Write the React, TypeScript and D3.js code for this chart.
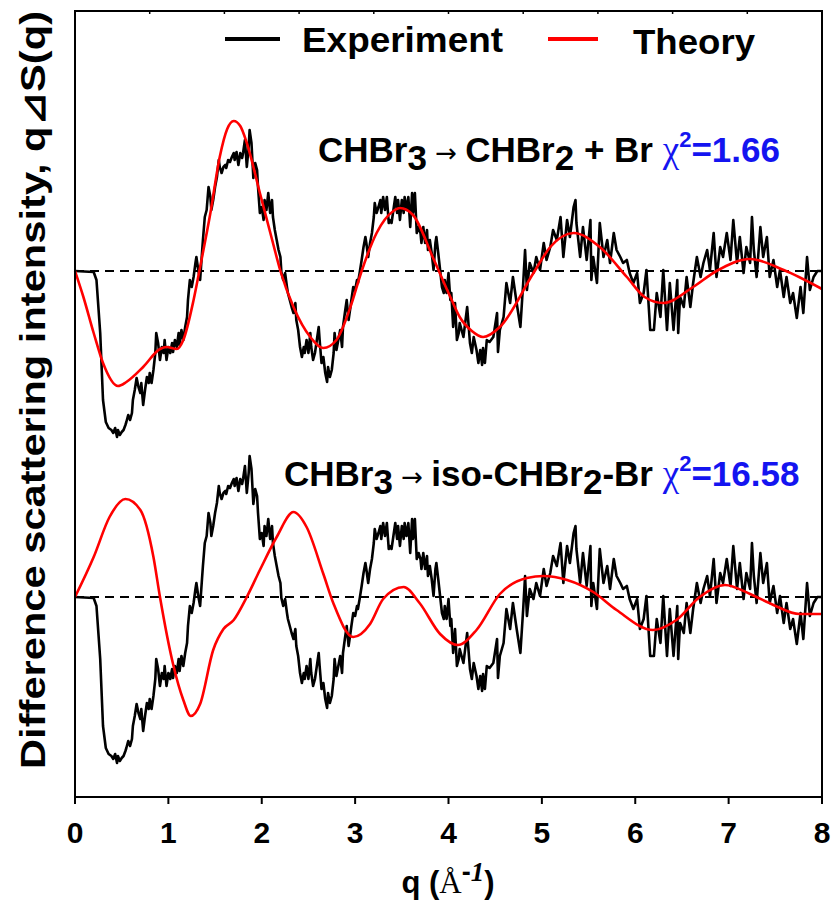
import React from "react";
import * as d3 from "d3";

const xTicks = [0, 1, 2, 3, 4, 5, 6, 7, 8];
const topTicks = [0, 1, 2, 3, 4, 5, 6, 7, 8, 9, 10];
const panelOffsets = [0, -3.26];

// Experimental difference signal q·ΔS(q) (same data shown in both panels)
const experiment: [number, number][] = [
  [0, 0], [0.2, -0.01], [0.23, -0.09], [0.27, -0.62], [0.3, -1.29], [0.33, -1.51], [0.36, -1.57],
  [0.39, -1.59], [0.41, -1.62], [0.43, -1.57], [0.45, -1.66], [0.46, -1.59], [0.48, -1.64], [0.5, -1.61],
  [0.52, -1.59], [0.54, -1.54], [0.55, -1.51], [0.57, -1.44], [0.59, -1.49], [0.61, -1.42], [0.62, -1.29],
  [0.64, -1.19], [0.66, -1.07], [0.68, -1.16], [0.7, -1.22], [0.71, -1.12], [0.73, -1.34], [0.75, -1.19],
  [0.77, -1.06], [0.79, -1.12], [0.8, -1.02], [0.82, -1.12], [0.84, -0.99], [0.86, -0.82], [0.87, -0.62],
  [0.89, -0.72], [0.91, -0.89], [0.93, -0.76], [0.95, -0.82], [0.96, -0.69], [0.98, -0.89], [1.0, -0.76],
  [1.02, -0.82], [1.04, -0.72], [1.05, -0.81], [1.07, -0.69], [1.09, -0.76], [1.11, -0.62], [1.12, -0.74],
  [1.14, -0.59], [1.16, -0.69], [1.18, -0.56], [1.2, -0.46], [1.21, -0.29], [1.23, -0.09], [1.25, -0.16],
  [1.27, -0.06], [1.29, 0.08], [1.3, 0.14], [1.32, 0.01], [1.34, -0.09], [1.36, 0.18], [1.37, 0.31],
  [1.39, 0.54], [1.41, 0.61], [1.43, 0.84], [1.45, 0.74], [1.46, 0.61], [1.48, 0.71], [1.5, 0.84],
  [1.52, 0.94], [1.54, 1.11], [1.55, 1.04], [1.57, 0.98], [1.59, 1.04], [1.61, 1.06], [1.62, 1.03],
  [1.64, 1.11], [1.66, 1.09], [1.68, 1.14], [1.7, 1.18], [1.71, 1.11], [1.73, 1.19], [1.75, 1.06],
  [1.77, 1.18], [1.79, 1.13], [1.8, 1.18], [1.82, 1.31], [1.84, 1.04], [1.86, 1.24], [1.87, 1.41],
  [1.89, 1.28], [1.91, 0.93], [1.93, 1.08], [1.95, 1.01], [1.96, 0.84], [1.98, 0.58], [2.0, 0.64],
  [2.02, 0.51], [2.03, 0.71], [2.05, 0.61], [2.07, 0.78], [2.09, 0.58], [2.11, 0.71], [2.12, 0.54],
  [2.14, 0.41], [2.16, 0.31], [2.18, 0.21], [2.2, 0.14], [2.21, -0.01], [2.23, -0.09], [2.25, -0.02],
  [2.27, -0.16], [2.28, -0.22], [2.3, -0.29], [2.32, -0.36], [2.34, -0.42], [2.36, -0.32], [2.37, -0.49],
  [2.39, -0.59], [2.41, -0.76], [2.43, -0.86], [2.45, -0.76], [2.46, -0.82], [2.48, -0.69], [2.5, -0.82],
  [2.52, -0.62], [2.53, -0.76], [2.55, -0.89], [2.57, -0.82], [2.59, -0.69], [2.61, -0.56], [2.62, -0.69],
  [2.64, -0.92], [2.66, -0.86], [2.68, -1.02], [2.7, -1.11], [2.71, -0.96], [2.73, -1.06], [2.75, -0.99],
  [2.77, -0.82], [2.78, -0.62], [2.8, -0.79], [2.82, -0.69], [2.84, -0.59], [2.86, -0.76], [2.87, -0.56],
  [2.89, -0.42], [2.91, -0.29], [2.93, -0.49], [2.95, -0.36], [2.96, -0.29], [2.98, -0.16], [3.0, -0.19],
  [3.02, -0.09], [3.03, -0.12], [3.05, -0.01], [3.07, 0.11], [3.09, 0.24], [3.11, 0.34], [3.12, 0.28],
  [3.14, 0.14], [3.16, 0.28], [3.18, 0.38], [3.2, 0.54], [3.21, 0.68], [3.23, 0.58], [3.25, 0.64],
  [3.27, 0.71], [3.28, 0.58], [3.3, 0.74], [3.32, 0.61], [3.34, 0.74], [3.36, 0.48], [3.37, 0.51],
  [3.39, 0.48], [3.41, 0.61], [3.43, 0.74], [3.45, 0.58], [3.46, 0.71], [3.48, 0.51], [3.5, 0.71],
  [3.52, 0.58], [3.53, 0.74], [3.55, 0.61], [3.57, 0.74], [3.59, 0.44], [3.61, 0.78], [3.62, 0.58],
  [3.64, 0.78], [3.66, 0.38], [3.68, 0.44], [3.7, 0.38], [3.71, 0.28], [3.73, 0.44], [3.75, 0.28],
  [3.77, 0.41], [3.78, 0.21], [3.8, 0.31], [3.82, 0.18], [3.84, 0.01], [3.86, 0.28], [3.87, 0.34],
  [3.89, 0.18], [3.91, 0.01], [3.93, -0.16], [3.95, -0.22], [3.96, -0.09], [3.98, -0.22], [4.0, -0.02],
  [4.02, -0.29], [4.03, -0.22], [4.05, -0.56], [4.07, -0.32], [4.09, -0.69], [4.11, -0.62],
  [4.12, -0.52], [4.16, -0.66], [4.2, -0.36], [4.23, -0.72], [4.25, -0.82], [4.27, -0.66], [4.3, -0.79],
  [4.32, -0.92], [4.34, -0.79], [4.36, -0.94], [4.37, -0.77], [4.39, -0.92], [4.41, -0.69], [4.44, -0.71],
  [4.48, -0.66], [4.52, -0.42], [4.53, -0.81], [4.55, -0.59], [4.59, -0.46], [4.62, -0.12], [4.66, -0.32],
  [4.69, -0.06], [4.73, -0.32], [4.77, -0.56], [4.8, -0.12], [4.82, 0.21], [4.84, -0.19], [4.87, 0.08],
  [4.91, -0.02], [4.94, 0.14], [4.98, 0.01], [5.02, 0.28], [5.05, 0.11], [5.09, 0.24], [5.12, 0.41],
  [5.16, 0.31], [5.2, 0.54], [5.23, 0.14], [5.27, 0.51], [5.3, 0.34], [5.34, 0.64], [5.36, 0.71],
  [5.37, 0.48], [5.41, 0.14], [5.44, 0.44], [5.48, 0.11], [5.52, 0.51], [5.53, -0.09], [5.55, 0.14],
  [5.59, -0.12], [5.62, 0.48], [5.66, 0.14], [5.7, 0.31], [5.73, 0.08], [5.77, 0.38], [5.8, 0.21],
  [5.84, 0.14], [5.87, 0.08], [5.91, 0.11], [5.94, -0.02], [5.98, -0.12], [6.02, -0.02], [6.05, -0.32],
  [6.09, -0.22], [6.12, 0.01], [6.16, -0.59], [6.2, -0.59], [6.23, -0.22], [6.27, -0.46], [6.3, 0.01],
  [6.34, -0.59], [6.37, -0.12], [6.41, -0.59], [6.45, -0.09], [6.46, -0.62], [6.48, -0.26], [6.52, -0.36],
  [6.55, -0.06], [6.59, -0.36], [6.62, -0.12], [6.66, 0.14], [6.7, -0.06], [6.73, 0.08], [6.77, 0.21],
  [6.8, 0.01], [6.84, 0.38], [6.87, -0.06], [6.91, 0.24], [6.94, 0.14], [6.98, 0.38], [7.02, 0.11],
  [7.05, 0.51], [7.09, 0.08], [7.12, 0.34], [7.16, -0.02], [7.19, 0.24], [7.23, 0.08], [7.25, 0.54],
  [7.27, 0.21], [7.3, -0.06], [7.34, 0.44], [7.37, 0.14], [7.41, 0.34], [7.44, -0.06], [7.48, 0.11],
  [7.52, -0.16], [7.55, 0.01], [7.59, -0.26], [7.62, -0.06], [7.66, -0.32], [7.69, -0.22], [7.73, -0.47],
  [7.77, -0.16], [7.8, -0.42], [7.84, 0.14], [7.87, -0.19], [7.91, -0.06], [7.95, 0], [8.0, 0],
];

// Theory: CHBr3 -> CHBr2 + Br
const theoryRadical: [number, number][] = [
  [0, 0], [0.09, -0.26], [0.2, -0.62], [0.3, -0.92], [0.46, -1.15], [0.55, -1.11], [0.73, -0.96],
  [0.91, -0.78], [0.98, -0.76], [1.09, -0.78], [1.16, -0.69], [1.27, -0.29], [1.34, 0.04], [1.45, 0.58],
  [1.55, 1.14], [1.63, 1.42], [1.7, 1.5], [1.77, 1.45], [1.84, 1.28], [1.98, 0.78], [2.12, 0.28],
  [2.2, 0], [2.34, -0.36], [2.52, -0.66], [2.66, -0.77], [2.8, -0.69], [2.95, -0.36], [3.07, 0],
  [3.23, 0.38], [3.41, 0.6], [3.48, 0.63], [3.62, 0.56], [3.84, 0.12], [4.02, -0.26], [4.12, -0.46],
  [4.25, -0.6], [4.37, -0.66], [4.55, -0.56], [4.91, -0.02], [5.09, 0.24], [5.34, 0.38], [5.62, 0.24],
  [5.91, -0.06], [6.1, -0.26], [6.3, -0.32], [6.62, -0.16], [6.87, 0], [7.23, 0.12], [7.59, 0.01],
  [8.0, -0.18],
];

// Theory: CHBr3 -> iso-CHBr2-Br
const theoryIso: [number, number][] = [
  [0, 0], [0.2, 0.4], [0.37, 0.8], [0.54, 0.98], [0.7, 0.87], [0.84, 0.4], [0.91, 0], [1.05, -0.67],
  [1.16, -1.03], [1.24, -1.19], [1.34, -1.07], [1.48, -0.53], [1.59, -0.32], [1.7, -0.23], [1.84, 0],
  [1.98, 0.27], [2.16, 0.6], [2.34, 0.85], [2.48, 0.7], [2.66, 0.23], [2.77, -0.07], [2.98, -0.4],
  [3.16, -0.27], [3.3, -0.02], [3.52, 0.1], [3.69, -0.06], [3.91, -0.37], [4.1, -0.48], [4.3, -0.33],
  [4.55, 0.03], [4.84, 0.19], [5.02, 0.21], [5.27, 0.17], [5.55, 0.05], [5.8, -0.13], [6.19, -0.33],
  [6.44, -0.23], [6.69, 0], [6.96, 0.12], [7.23, 0.03], [7.48, -0.08], [7.76, -0.17], [8.0, -0.17],
];

const theories = [theoryRadical, theoryIso];
const chiValues = ["1.66", "16.58"];

const SANS = "'Liberation Sans', Arial, Helvetica, sans-serif";
const SERIF = "'Liberation Serif', 'Times New Roman', serif";
const ARROWF = "'DejaVu Sans', sans-serif";
const BLUE = "#1414f0";

export default function App() {
  const W = 836;
  const H = 907;
  const L = 75, R = 822, T = 11, B = 797;
  const x = d3.scaleLinear().domain([0, 8]).range([L, R]);
  const xTop = d3.scaleLinear().domain([0, 10]).range([L, R]);
  const y = d3.scaleLinear().domain([-5.26, 2.6]).range([B, T]);

  const mkLine = (off: number, curve: d3.CurveFactory) =>
    d3
      .line<[number, number]>()
      .x((d) => x(d[0]))
      .y((d) => y(d[1] + off))
      .curve(curve);

  const fs = 30;
  const afs = 35;

  return (
    <svg width={W} height={H} style={{ position: "absolute", left: 0, top: 0, background: "#fff" }}>
      <rect x={0} y={0} width={W} height={H} fill="#fff" />
      {/* zero baselines */}
      {panelOffsets.map((off, i) => (
        <line key={"b" + i} x1={L} x2={R} y1={y(off)} y2={y(off)} stroke="#000" strokeWidth={2} strokeDasharray="9,6" />
      ))}
      {/* experiment */}
      {panelOffsets.map((off, i) => (
        <path key={"e" + i} d={mkLine(off, d3.curveLinear)(experiment) || ""} fill="none" stroke="#000" strokeWidth={2.6} strokeLinejoin="round" />
      ))}
      {/* theory */}
      {panelOffsets.map((off, i) => (
        <path key={"t" + i} d={mkLine(off, d3.curveMonotoneX)(theories[i]) || ""} fill="none" stroke="#ff0000" strokeWidth={2.6} />
      ))}
      {/* frame */}
      <rect x={L} y={T} width={R - L} height={B - T} fill="none" stroke="#000" strokeWidth={2} />
      {topTicks.map((t) => (
        <line key={"tt" + t} x1={xTop(t)} x2={xTop(t)} y1={T} y2={T + 3} stroke="#000" strokeWidth={1.5} />
      ))}
      {xTicks.map((t) => (
        <g key={"xt" + t}>
          <line x1={x(t)} x2={x(t)} y1={B} y2={B + 7} stroke="#000" strokeWidth={2} />
          <text x={x(t)} y={843} textAnchor="middle" fontFamily={SANS} fontWeight="bold" fontSize={fs}>
            {t}
          </text>
        </g>
      ))}
      {/* x label */}
      <text x={448} y={893} textAnchor="middle" fontSize={31}>
        <tspan fontFamily={SANS} fontWeight="bold">q (</tspan>
        <tspan fontFamily={SERIF}>Å</tspan>
        <tspan fontFamily={SANS} fontWeight="bold" dy={-12} fontSize={27}>-</tspan>
        <tspan fontFamily={SERIF} fontWeight="bold" fontStyle="italic" fontSize={27}>1</tspan>
        <tspan fontFamily={SANS} fontWeight="bold" dy={12}>)</tspan>
      </text>
      {/* y label */}
      <text
        transform={`translate(45, 390) rotate(-90)`}
        textAnchor="middle"
        fontFamily={SANS}
        fontWeight="bold"
        fontSize={35}
        textLength={758}
        lengthAdjust="spacingAndGlyphs"
      >
        Difference scattering intensity, q⊿S(q)
      </text>
      {/* legend */}
      <line x1={225} x2={280} y1={39} y2={39} stroke="#000" strokeWidth={4} />
      <text x={302} y={52} fontFamily={SANS} fontWeight="bold" fontSize={35} textLength={201} lengthAdjust="spacingAndGlyphs">
        Experiment
      </text>
      <line x1={548} x2={598} y1={39} y2={39} stroke="#ff0000" strokeWidth={4} />
      <text x={633} y={54} fontFamily={SANS} fontWeight="bold" fontSize={35} textLength={122} lengthAdjust="spacingAndGlyphs">
        Theory
      </text>
      {/* annotations */}
      <text x={318} y={162} fontFamily={SANS} fontWeight="bold" fontSize={afs}>
        <tspan>CHBr</tspan>
        <tspan dy={8}>3</tspan>
        <tspan dy={-8} fontFamily={ARROWF} fontWeight="normal" fontSize={26}>{" → "}</tspan>
        <tspan>CHBr</tspan>
        <tspan dy={8}>2</tspan>
        <tspan dy={-8}>{" + Br "}</tspan>
        <tspan fill={BLUE} fontFamily={SERIF} fontWeight="normal" fontSize={37}>χ</tspan>
        <tspan fill={BLUE} dy={-15} fontSize={22}>2</tspan>
        <tspan fill={BLUE} dy={15}>={chiValues[0]}</tspan>
      </text>
      <text x={284} y={486} fontFamily={SANS} fontWeight="bold" fontSize={afs}>
        <tspan>CHBr</tspan>
        <tspan dy={8}>3</tspan>
        <tspan dy={-8} fontFamily={ARROWF} fontWeight="normal" fontSize={26}>{" → "}</tspan>
        <tspan>iso-CHBr</tspan>
        <tspan dy={8}>2</tspan>
        <tspan dy={-8}>-Br </tspan>
        <tspan fill={BLUE} fontFamily={SERIF} fontWeight="normal" fontSize={37}>χ</tspan>
        <tspan fill={BLUE} dy={-15} fontSize={22}>2</tspan>
        <tspan fill={BLUE} dy={15}>={chiValues[1]}</tspan>
      </text>
    </svg>
  );
}
